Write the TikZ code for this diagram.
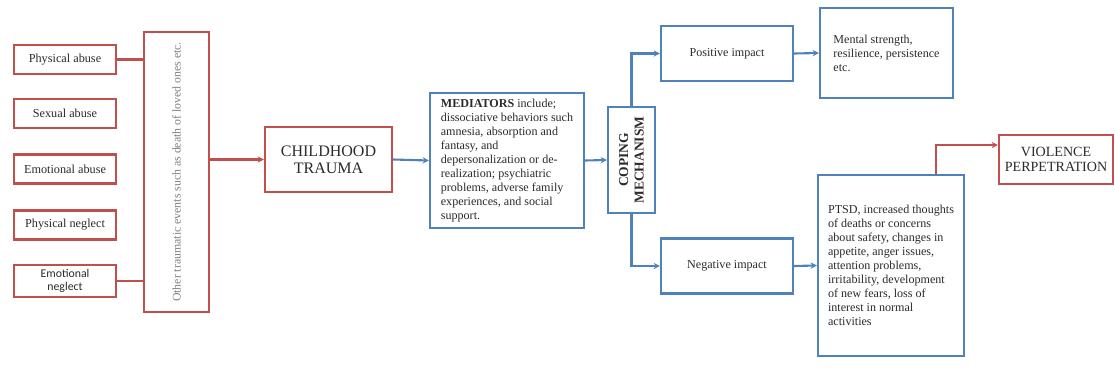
\documentclass[tikz,border=0pt]{standalone}
\usepackage{fontspec}
\setmainfont{Liberation Serif}
\newfontfamily\carlito{Carlito}
\usepackage{xcolor}
\usepackage{tikz}
\usetikzlibrary{arrows.meta}
\definecolor{ctred}{HTML}{C0504D}
\definecolor{ctblue}{HTML}{4F81BD}
\definecolor{cttext}{HTML}{2B2B2B}
\definecolor{ctgray}{HTML}{808080}

\begin{document}
\begin{tikzpicture}[
    x=1cm,y=1cm,
    redbox/.style={draw=ctred, line width=1.5pt, fill=white, text=cttext, align=center, inner sep=3pt},
    bluebox/.style={draw=ctblue, line width=1.5pt, fill=white, text=cttext, inner sep=4pt},
    kind/.style={redbox, minimum width=2.55cm, minimum height=0.725cm, font=\fontsize{8.7}{10}\selectfont},
    body/.style={bluebox, align=left, font=\fontsize{8.6}{10}\selectfont},
    big/.style={font=\fontsize{11.4}{12.2}\selectfont},
    redline/.style={draw=ctred, line width=1.5pt},
    redlink/.style={redline, -{Stealth[length=4.5pt,width=4.5pt]}},
    bluelink/.style={draw=ctblue, line width=1.5pt, -{Stealth[length=4.5pt,width=4.5pt]}}
  ]
    \useasboundingbox (0,0) rectangle (27.875,9.4);

    \node[kind] (phys) at (1.625,7.9125) {Physical abuse};
    \node[kind] (sex) at (1.625,6.5625) {Sexual abuse};
    \node[kind] (emoab) at (1.625,5.175) {Emotional abuse};
    \node[kind] (physneg) at (1.625,3.775) {Physical neglect};
    \node[kind, font=\carlito\fontsize{8.4}{9.5}\selectfont] (emoneg) at (1.625,2.375) {Emotional\\neglect};

    \node[redbox, minimum width=7.0cm, minimum height=1.625cm, rotate=90, text=ctgray, font=\fontsize{8.4}{10}\selectfont] (other) at (4.4125,5.1) {Other traumatic events such as death of loved ones etc.};

    \node[redbox, big, minimum width=3.175cm, minimum height=1.625cm] (child) at (8.2125,5.4125) {CHILDHOOD\\TRAUMA};

    \node[body, minimum width=3.85cm, minimum height=3.375cm] (med) at (12.675,5.3875) {\textbf{MEDIATORS} include;\\dissociative behaviors such\\amnesia, absorption and\\fantasy, and\\depersonalization or de-\\realization; psychiatric\\problems, adverse family\\experiences, and social\\support.};

    \node[bluebox, align=center, rotate=90, minimum width=2.65cm, minimum height=1.175cm, font=\bfseries\fontsize{9.6}{11}\selectfont] (coping) at (15.7875,5.4) {COPING\\MECHANISM};

    \node[bluebox, minimum width=3.3cm, minimum height=1.375cm, font=\fontsize{8.6}{10}\selectfont] (pos) at (18.175,8.0625) {Positive impact};
    \node[bluebox, minimum width=3.3cm, minimum height=1.375cm, font=\fontsize{8.6}{10}\selectfont] (neg) at (18.175,2.75) {Negative impact};

    \node[body, minimum width=3.325cm, minimum height=2.25cm] (mental) at (22.1625,8.075) {Mental strength,\\resilience, persistence\\etc.};
    \node[body, minimum width=3.65cm, minimum height=4.525cm] (ptsd) at (22.275,2.7625) {PTSD, increased thoughts\\of deaths or concerns\\about safety, changes in\\appetite, anger issues,\\attention problems,\\irritability, development\\of new fears, loss of\\interest in normal\\activities};

    \node[redbox, font=\fontsize{10}{11.2}\selectfont, minimum width=2.85cm, minimum height=1.225cm] (viol) at (26.4,5.4125) {VIOLENCE\\PERPETRATION};

    \draw[redline] (phys.east) -- (phys.east -| other.north);
    \draw[redline] (emoneg.east) -- (emoneg.east -| other.north);
    \draw[redlink] (other.south |- child.west) -- (child.west);

    \draw[bluelink] (child.east) -- (med.west);
    \draw[bluelink] (med.east) -- (coping.north);
    \draw[bluelink] (coping.east) |- (pos.west);
    \draw[bluelink] (coping.west) |- (neg.west);
    \draw[bluelink] (pos.east) -- (mental.west);
    \draw[bluelink] (neg.east) -- (ptsd.west);

    \draw[redlink] ([xshift=1.125cm]ptsd.north) |- ([yshift=0.3625cm]viol.west);
  \end{tikzpicture}
\end{document}
